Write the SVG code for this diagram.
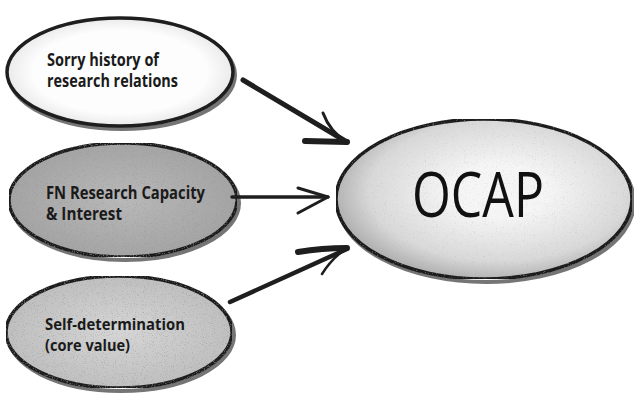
<svg xmlns="http://www.w3.org/2000/svg" width="634" height="396" viewBox="0 0 634 396">
<style>
.ring{stroke:#1e1e1e;stroke-width:3.5}
.shadow{fill:none;stroke:#3a3a3a;stroke-width:4;opacity:0.7}
.lbl{font-family:"Open Sans","Noto Sans",sans-serif;font-weight:700;fill:#1a1a1a}
.big{font-family:"Open Sans","Noto Sans",sans-serif;font-weight:400;fill:#111}
.arr{fill:none;stroke:#1e1e1e;stroke-linecap:round;stroke-linejoin:round}
</style>
<defs>
<filter id="grain" x="0" y="0" width="100%" height="100%">
<feTurbulence type="fractalNoise" baseFrequency="0.9" numOctaves="2" seed="4" result="n"/>
<feColorMatrix in="n" type="matrix" values="0 0 0 0 0.3  0 0 0 0 0.3  0 0 0 0 0.3  0 0 0 -2 0.9" result="dots"/>
<feComposite in="dots" in2="SourceGraphic" operator="in" result="d"/>
<feMerge><feMergeNode in="SourceGraphic"/><feMergeNode in="d"/></feMerge>
</filter>
<filter id="grainL" x="0" y="0" width="100%" height="100%">
<feTurbulence type="fractalNoise" baseFrequency="0.9" numOctaves="2" seed="7" result="n"/>
<feColorMatrix in="n" type="matrix" values="0 0 0 0 0.4  0 0 0 0 0.4  0 0 0 0 0.4  0 0 0 -1.6 0.6" result="dots"/>
<feComposite in="dots" in2="SourceGraphic" operator="in" result="d"/>
<feMerge><feMergeNode in="SourceGraphic"/><feMergeNode in="d"/></feMerge>
</filter>
<radialGradient id="g1" cx="0.5" cy="0.5" r="0.55">
<stop offset="0.7" stop-color="#fdfdfd"/><stop offset="1" stop-color="#e2e2e2"/>
</radialGradient>
<radialGradient id="g2" cx="0.5" cy="0.5" r="0.55">
<stop offset="0" stop-color="#b9b9b9"/><stop offset="1" stop-color="#a2a2a2"/>
</radialGradient>
<radialGradient id="g3" cx="0.5" cy="0.5" r="0.55">
<stop offset="0" stop-color="#d6d6d6"/><stop offset="1" stop-color="#bdbdbd"/>
</radialGradient>
<radialGradient id="g4" cx="0.55" cy="0.45" r="0.55">
<stop offset="0.3" stop-color="#f5f5f5"/><stop offset="0.8" stop-color="#d8d8d8"/><stop offset="1" stop-color="#b4b4b4"/>
</radialGradient>
</defs>
<rect width="634" height="396" fill="#ffffff"/>
<g id="node-sorry">
<ellipse cx="122" cy="75" rx="113" ry="54" class="shadow"/>
<ellipse cx="120" cy="72" rx="113" ry="54" fill="url(#g1)" class="ring"/>
<text class="lbl" font-size="17" x="47" y="66" textLength="112" lengthAdjust="spacingAndGlyphs">Sorry history of</text>
<text class="lbl" font-size="17" x="47" y="87" textLength="131" lengthAdjust="spacingAndGlyphs">research relations</text>
</g>
<g id="node-fn">
<ellipse cx="125" cy="203" rx="114" ry="57" class="shadow"/>
<ellipse cx="123" cy="200" rx="114" ry="57" fill="url(#g2)" class="ring" filter="url(#grain)"/>
<text class="lbl" font-size="17" x="46" y="199" textLength="159" lengthAdjust="spacingAndGlyphs">FN Research Capacity</text>
<text class="lbl" font-size="17" x="46" y="220" textLength="76" lengthAdjust="spacingAndGlyphs">&amp; Interest</text>
</g>
<g id="node-self">
<ellipse cx="121" cy="335" rx="113" ry="56" class="shadow"/>
<ellipse cx="119" cy="332" rx="113" ry="56" fill="url(#g3)" class="ring" filter="url(#grain)"/>
<text class="lbl" font-size="16.5" x="45" y="330" textLength="140" lengthAdjust="spacingAndGlyphs">Self-determination</text>
<text class="lbl" font-size="16.5" x="45" y="351" textLength="85" lengthAdjust="spacingAndGlyphs">(core value)</text>
</g>
<g id="node-ocap">
<ellipse cx="486" cy="202" rx="148" ry="80" class="shadow"/>
<ellipse cx="484" cy="199" rx="148" ry="80" fill="url(#g4)" class="ring" filter="url(#grainL)"/>
<text class="big" font-size="62" x="412" y="217" textLength="132" lengthAdjust="spacingAndGlyphs">OCAP</text>
</g>
<g id="connectors">
<path class="arr" stroke-width="5" d="M243 80 L347 142"/>
<path class="arr" stroke-width="6" d="M305 141 L347 142"/>
<path class="arr" stroke-width="3" d="M323 113 Q330 132 347 142"/>
<path class="arr" stroke-width="3.5" d="M232 197 L328 197"/>
<path class="arr" stroke-width="3" d="M298 188 L328 197 L298 213"/>
<path class="arr" stroke-width="4.5" d="M230 302 L347 249"/>
<path class="arr" stroke-width="6" d="M298 252 Q322 248 347 248"/>
<path class="arr" stroke-width="2.5" d="M322 274 Q332 258 347 248"/>
</g>
</svg>
